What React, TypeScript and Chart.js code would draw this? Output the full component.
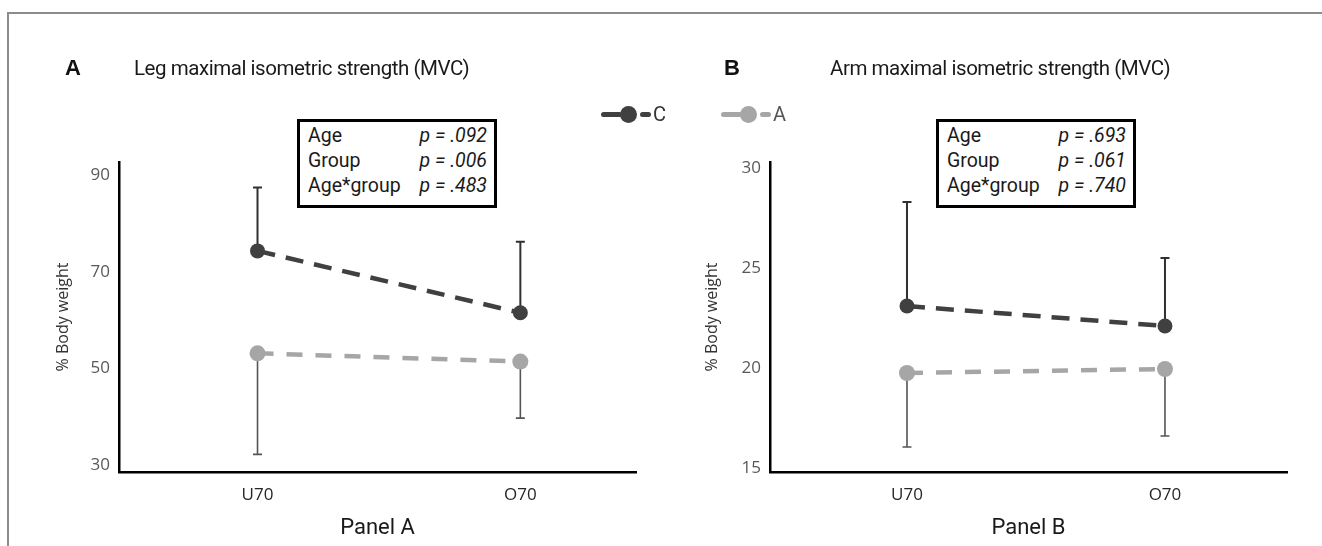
import React, { useEffect, useRef } from "react";
import { Chart, registerables } from "chart.js";

Chart.register(...registerables);

// ---------- data ----------
const categories = ["U70", "O70"];

const legMeansC = [74.3, 61.5];
const legMeansA = [53.1, 51.4];
const legUpperC = [87.4, 76.2];
const legLowerA = [32.2, 39.7];
const legTicks = [30, 50, 70, 90];

const armMeansC = [23.1, 22.1];
const armMeansA = [19.75, 19.95];
const armUpperC = [28.3, 25.5];
const armLowerA = [16.05, 16.6];
const armTicks = [15, 20, 25, 30];

const legStatLabels = ["Age", "Group", "Age*group"];
const legStatValues = ["p = .092", "p = .006", "p = .483"];
const armStatLabels = ["Age", "Group", "Age*group"];
const armStatValues = ["p = .693", "p = .061", "p = .740"];

const seriesNames = ["C", "A"];

// ---------- styles ----------
const DARK = "#404040";
const LIGHT = "#a6a6a6";
const AXIS_FONT = "'Open Sans', Lato, sans-serif";
const TITLE_FONT = "Roboto, 'Noto Sans', sans-serif";

const errorBarPlugin = {
  id: "errorBars",
  beforeDatasetsDraw(chart: any, _args: any, opts: any) {
    const { ctx, scales } = chart;
    const xs = scales.x;
    const ys = scales.y;
    (opts.bars || []).forEach((bar: any) => {
      const ds = chart.data.datasets[bar.datasetIndex];
      ctx.save();
      ctx.strokeStyle = bar.color;
      ctx.lineWidth = bar.width;
      ds.data.forEach((pt: any, i: number) => {
        const x = xs.getPixelForValue(pt.x);
        const y0 = ys.getPixelForValue(pt.y);
        const y1 = ys.getPixelForValue(bar.ends[i]);
        ctx.beginPath();
        ctx.moveTo(x, y0);
        ctx.lineTo(x, y1);
        ctx.moveTo(x - bar.cap, y1);
        ctx.lineTo(x + bar.cap, y1);
        ctx.stroke();
      });
      ctx.restore();
    });
  },
};

type PanelProps = {
  left: number;
  width: number;
  meansC: number[];
  meansA: number[];
  upperC: number[];
  lowerA: number[];
  ticks: number[];
  yMin: number;
  yMax: number;
  xMin: number;
  xMax: number;
  yAxisWidth: number;
  padRight: number;
  yTitlePad: number;
  panelTitle: string;
};

function Panel(p: PanelProps) {
  const ref = useRef<HTMLCanvasElement | null>(null);
  useEffect(() => {
    if (!ref.current) return;
    const chart = new Chart(ref.current, {
      type: "line",
      data: {
        datasets: [
          {
            label: seriesNames[0],
            data: p.meansC.map((y, i) => ({ x: i, y })),
            borderColor: DARK,
            backgroundColor: DARK,
            borderWidth: 4.5,
            borderDash: [18, 11],
            pointRadius: 7.5,
            pointHoverRadius: 7.5,
            pointBackgroundColor: DARK,
            pointBorderWidth: 0,
          },
          {
            label: seriesNames[1],
            data: p.meansA.map((y, i) => ({ x: i, y })),
            borderColor: LIGHT,
            backgroundColor: LIGHT,
            borderWidth: 4.5,
            borderDash: [16, 13],
            pointRadius: 8,
            pointHoverRadius: 8,
            pointBackgroundColor: LIGHT,
            pointBorderWidth: 0,
          },
        ],
      },
      options: {
        animation: false,
        responsive: false,
        events: [],
        layout: { padding: { left: 0, top: 162, right: p.padRight, bottom: 0 } },
        plugins: {
          legend: { display: false },
          tooltip: { enabled: false },
          errorBars: {
            bars: [
              { datasetIndex: 0, ends: p.upperC, color: "#303030", width: 2, cap: 4.5 },
              { datasetIndex: 1, ends: p.lowerA, color: "#555555", width: 1.6, cap: 4.5 },
            ],
          },
        } as any,
        scales: {
          x: {
            type: "linear",
            min: p.xMin,
            max: p.xMax,
            afterBuildTicks: (s: any) => {
              s.ticks = categories.map((_, i) => ({ value: i }));
            },
            afterFit: (s: any) => {
              s.height = 74;
            },
            ticks: {
              callback: (v: any) => categories[v as number] ?? "",
              font: { family: AXIS_FONT, size: 17 },
              color: "#262626",
              padding: 13,
              autoSkip: false,
              maxRotation: 0,
            },
            grid: { display: false, drawTicks: false },
            border: { display: true, color: "#000", width: 2.5 },
            title: {
              display: true,
              text: p.panelTitle,
              font: { family: TITLE_FONT, size: 22 },
              color: "#1a1a1a",
              padding: { top: 0, bottom: 4 },
            },
          },
          y: {
            min: p.yMin,
            max: p.yMax,
            afterBuildTicks: (s: any) => {
              s.ticks = p.ticks.map((v) => ({ value: v }));
            },
            afterFit: (s: any) => {
              s.width = p.yAxisWidth;
            },
            ticks: {
              font: { family: AXIS_FONT, size: 17 },
              color: "#595959",
              padding: 9,
            },
            grid: { display: false, drawTicks: false },
            border: { display: true, color: "#000", width: 2.5 },
            title: {
              display: true,
              text: "% Body weight",
              font: { family: AXIS_FONT, size: 16 },
              color: "#333333",
              padding: { top: p.yTitlePad, bottom: 0 },
            },
          },
        },
      } as any,
      plugins: [errorBarPlugin as any],
    });
    return () => chart.destroy();
  }, []);
  return (
    <canvas
      ref={ref}
      width={p.width}
      height={546}
      style={{ position: "absolute", left: p.left, top: 0, width: p.width, height: 546 }}
    />
  );
}

function StatBox({ left, labels, values }: { left: number; labels: string[]; values: string[] }) {
  return (
    <div
      style={{
        position: "absolute",
        left,
        top: 119,
        width: 200,
        height: 89,
        boxSizing: "border-box",
        border: "3px solid #000",
        background: "#fff",
        padding: "1px 7px 0 8px",
        fontFamily: TITLE_FONT,
        fontSize: 19.5,
        color: "#1a1a1a",
      }}
    >
      {labels.map((l, i) => (
        <div key={l} style={{ display: "flex", justifyContent: "space-between", height: 25, lineHeight: "25px", whiteSpace: "nowrap" }}>
          <span>{l}</span>
          <span style={{ fontStyle: "italic" }}>{values[i]}</span>
        </div>
      ))}
    </div>
  );
}

function LegendItem({ left, color, label, textColor }: { left: number; color: string; label: string; textColor: string }) {
  return (
    <div style={{ position: "absolute", left, top: 102, height: 24, display: "flex", alignItems: "center" }}>
      <div style={{ width: 21, height: 5, background: color, borderRadius: 2.5 }} />
      <div style={{ width: 17, height: 17, background: color, borderRadius: "50%", marginLeft: -2 }} />
      <div style={{ width: 11, height: 5, background: color, borderRadius: 2.5, marginLeft: 3 }} />
      <span style={{ marginLeft: 2, fontFamily: TITLE_FONT, fontSize: 20, color: textColor, lineHeight: "24px" }}>{label}</span>
    </div>
  );
}

export default function App() {
  return (
    <div style={{ position: "absolute", left: 0, top: 0, width: 1322, height: 546, background: "#fff", overflow: "hidden" }}>
      <div
        style={{
          position: "absolute",
          left: 7,
          top: 12,
          width: 1322,
          height: 546,
          borderTop: "2px solid #8c8c8c",
          borderLeft: "2px solid #8c8c8c",
        }}
      />
      <Panel
        left={0}
        width={661}
        meansC={legMeansC}
        meansA={legMeansA}
        upperC={legUpperC}
        lowerA={legLowerA}
        ticks={legTicks}
        yMin={28.55}
        yMax={92.7}
        xMin={-0.527}
        xMax={1.44}
        yAxisWidth={119}
        padRight={25}
        yTitlePad={54}
        panelTitle="Panel A"
      />
      <Panel
        left={661}
        width={661}
        meansC={armMeansC}
        meansA={armMeansA}
        upperC={armUpperC}
        lowerA={armLowerA}
        ticks={armTicks}
        yMin={14.8}
        yMax={30.3}
        xMin={-0.531}
        xMax={1.473}
        yAxisWidth={109}
        padRight={35}
        yTitlePad={42}
        panelTitle="Panel B"
      />
      <div style={{ position: "absolute", left: 65, top: 54, fontFamily: "'Liberation Sans', Arial, sans-serif", fontWeight: "bold", fontSize: 22, lineHeight: "28px", color: "#111" }}>A</div>
      <div style={{ position: "absolute", left: 134, top: 54, fontFamily: TITLE_FONT, fontSize: 20.5, letterSpacing: "-0.45px", lineHeight: "28px", color: "#1a1a1a", whiteSpace: "nowrap" }}>
        Leg maximal isometric strength (MVC)
      </div>
      <div style={{ position: "absolute", left: 724, top: 54, fontFamily: "'Liberation Sans', Arial, sans-serif", fontWeight: "bold", fontSize: 22, lineHeight: "28px", color: "#111" }}>B</div>
      <div style={{ position: "absolute", left: 830, top: 54, fontFamily: TITLE_FONT, fontSize: 20.5, letterSpacing: "-0.45px", lineHeight: "28px", color: "#1a1a1a", whiteSpace: "nowrap" }}>
        Arm maximal isometric strength (MVC)
      </div>
      <LegendItem left={601} color={DARK} label={seriesNames[0]} textColor="#333" />
      <LegendItem left={721} color={LIGHT} label={seriesNames[1]} textColor="#555" />
      <StatBox left={297} labels={legStatLabels} values={legStatValues} />
      <StatBox left={936} labels={armStatLabels} values={armStatValues} />
    </div>
  );
}
